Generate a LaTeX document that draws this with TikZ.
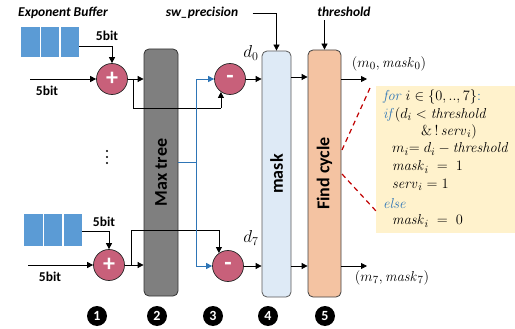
\documentclass[tikz,border=0pt]{standalone}
\usepackage[no-math]{fontspec}
\setmainfont{Carlito}
\usetikzlibrary{arrows.meta}
\definecolor{bufblue}{HTML}{5B9BD5}
\definecolor{opred}{HTML}{C8607A}
\definecolor{treegray}{HTML}{7F7F7F}
\definecolor{maskblue}{HTML}{DEEAF6}
\definecolor{findorange}{HTML}{F4C3A2}
\definecolor{codebg}{HTML}{FFF2CC}
\definecolor{kwblue}{HTML}{2E75B6}
\definecolor{linkblue}{HTML}{2E75B6}
\definecolor{dashred}{HTML}{C00000}
\tikzset{
  buf/.style={fill=bufblue, minimum width=18.5pt, minimum height=30pt, inner sep=0pt},
  op/.style={circle, fill=opred, draw=black!85, line width=0.7pt, minimum size=31pt, inner sep=0pt, text=white, font=\bfseries\fontsize{24}{24}\selectfont},
  stagebox/.style={rounded corners=5pt, line width=0.8pt, inner sep=0pt},
  stagelbl/.style={rotate=90, font=\bfseries\fontsize{18}{18}\selectfont},
  lbl/.style={font=\bfseries\fontsize{13.5}{13.5}\selectfont},
  ilbl/.style={font=\bfseries\itshape\fontsize{13.5}{13.5}\selectfont},
  num/.style={circle, fill=black, text=white, minimum size=20pt, inner sep=0pt, font=\bfseries\fontsize{14}{14}\selectfont},
  arr/.style={-{Triangle[length=6pt,width=6pt]}, line width=0.8pt},
  wire/.style={line width=0.8pt},
  bluewire/.style={line width=0.8pt, draw=linkblue},
  mathlbl/.style={font=\fontsize{15}{15}\selectfont, inner sep=0pt},
  dlbl/.style={font=\fontsize{17}{17}\selectfont, inner sep=0pt},
  codeln/.style={anchor=west, inner sep=0pt, font=\fontsize{15.5}{15.5}\selectfont},
  reddash/.style={draw=dashred, dashed, line width=1.2pt, dash pattern=on 5pt off 4pt},
  dot/.style={circle, fill=black, inner sep=0pt, minimum size=2.2pt}
}
\begin{document}
\begin{tikzpicture}[x=1pt,y=-1pt]
\useasboundingbox (0,0) rectangle (515,329);

% labels at top
\node[ilbl] (eb) at (63,13) {Exponent Buffer};
\node[ilbl] (swp) at (202,13) {sw\_precision};
\node[ilbl] (thr) at (344,12) {threshold};

% buffers
\node[buf] (b1a) at (30.25,42) {};
\node[buf] (b1b) at (50,42) {};
\node[buf] (b1c) at (69.75,42) {};
\node[buf, minimum height=32pt] (b2a) at (33.25,229.5) {};
\node[buf, minimum height=32pt] (b2b) at (53,229.5) {};
\node[buf, minimum height=32pt] (b2c) at (72.75,229.5) {};

% stages
\node[stagebox, fill=treegray, draw=black!80, minimum width=34pt, minimum height=247pt] (maxtree) at (161,172.5) {};
\node[stagebox, fill=maskblue, draw=black!65, minimum width=29pt, minimum height=246pt] (mask) at (276.5,174) {};
\node[stagebox, fill=findorange, draw=black!75, minimum width=33pt, minimum height=247pt] (find) at (324.5,173.5) {};
\node[stagelbl] (mtl) at (maxtree) {Max tree};
\node[stagelbl] (mkl) at (mask) {mask};
\node[stagelbl] (fcl) at (find) {Find cycle};

% operators
\node[op] (plus1) at (112,79) {+};
\node[op] (plus2) at (109,265) {+};
\node[op] (minus1) at (230,79) {-};
\node[op] (minus2) at (228,266) {-};

% inputs
\coordinate (in1) at (30,79);
\coordinate (in2) at (28,265);
\draw[arr] (in1) -- (plus1.west);
\draw[arr] (in2) -- (plus2.west);
\node[lbl] (l5a) at (47,91) {5bit};
\node[lbl] (l5b) at (50,277) {5bit};
\draw[arr] (b1c.east |- 0,46) -| (plus1.north);
\draw[arr] (b2c.east |- 0,231) -| (plus2.north);
\node[lbl] (l5c) at (107,36) {5bit};
\node[lbl] (l5d) at (104,222) {5bit};

% plus to max tree
\draw[arr] (plus1.east) -- (plus1.east -| maxtree.west);
\draw[arr] (plus2.east) -- (plus2.east -| maxtree.west);
% bypass to minus
\coordinate (j1) at (133,79);
\coordinate (j2) at (131,265);
\draw[wire] (j1) |- (minus1.235 |- 0,108);
\draw[arr] (minus1.235 |- 0,108) -- (minus1.235);
\draw[wire] (j2) |- (minus2.125 |- 0,230);
\draw[arr] (minus2.125 |- 0,230) -- (minus2.125);

% blue lines
\coordinate (bj) at (196,162);
\draw[bluewire] (maxtree.east |- bj) -- (bj);
\draw[bluewire, arr] (bj) |- (minus1.west);
\draw[bluewire, arr] (bj) |- (minus2.west);

% minus to mask
\draw[arr] (minus1.east) -- (minus1.east -| mask.west);
\draw[arr] (minus2.east) -- (minus2.east -| mask.west);
\node[dlbl] (d0) at (251,53) {$d_0$};
\node[dlbl] (d7) at (251,238) {$d_7$};

% mask to find
\draw[arr] (mask.east |- 0,77) -- (find.west |- 0,77);
\draw[arr] (mask.east |- 0,266) -- (find.west |- 0,266);

% control inputs
\draw[arr] (swp.east) ++(11,0) -| (mask.north);
\draw[arr] (find.north |- thr.south) -- (find.north);

% outputs
\coordinate (o0) at (367,79);
\coordinate (o7) at (367,266);
\draw[arr] (find.east |- o0) -- (o0);
\draw[arr] (find.east |- o7) -- (o7);
\node[mathlbl] (lo0) at (389,64) {$(m_0, \mathit{mask}_0)$};
\node[mathlbl] (lo7) at (392,278) {$(m_7, \mathit{mask}_7)$};

% dots
\node[dot] (dt1) at (107,151) {};
\node[dot] (dt2) at (107,157) {};
\node[dot] (dt3) at (107,163) {};

% code box
\node[fill=codebg, minimum width=139pt, minimum height=147pt, inner sep=0pt] (code) at (445.5,159.5) {};
\coordinate (r1a) at (342,150);
\coordinate (r1b) at (370,88);
\coordinate (r2a) at (342,174);
\coordinate (r2b) at (376,211);
\draw[reddash] (r1a) -- (r1b);
\draw[reddash] (r2a) -- (r2b);
\node[codeln] (c1) at (383,97) {\textcolor{kwblue}{$\mathit{for}$} $i\in\{0,..,7\}$\textcolor{kwblue}{$:$}};
\node[codeln] (c2) at (383,115) {\textcolor{kwblue}{$\mathit{if}$}$(d_i<\mathit{threshold}$};
\node[codeln] (c3) at (421,132) {$\&\,!\,\mathit{serv}_i)$};
\node[codeln] (c4) at (392,149) {$m_i{=}\;d_i-\mathit{threshold}$};
\node[codeln] (c5) at (392,167) {$\mathit{mask}_i\;=\;1$};
\node[codeln] (c6) at (392,185) {$\mathit{serv}_i=1$};
\node[codeln] (c7) at (383,203) {\textcolor{kwblue}{$\mathit{else}$}};
\node[codeln] (c8) at (392,221) {$\mathit{mask}_i\;=\;0$};

% step numbers
\node[num] (n1) at (97,316) {1};
\node[num] (n2) at (157,316) {2};
\node[num] (n3) at (213,316) {3};
\node[num] (n4) at (268,316) {4};
\node[num] (n5) at (325,316) {5};
\end{tikzpicture}
\end{document}
